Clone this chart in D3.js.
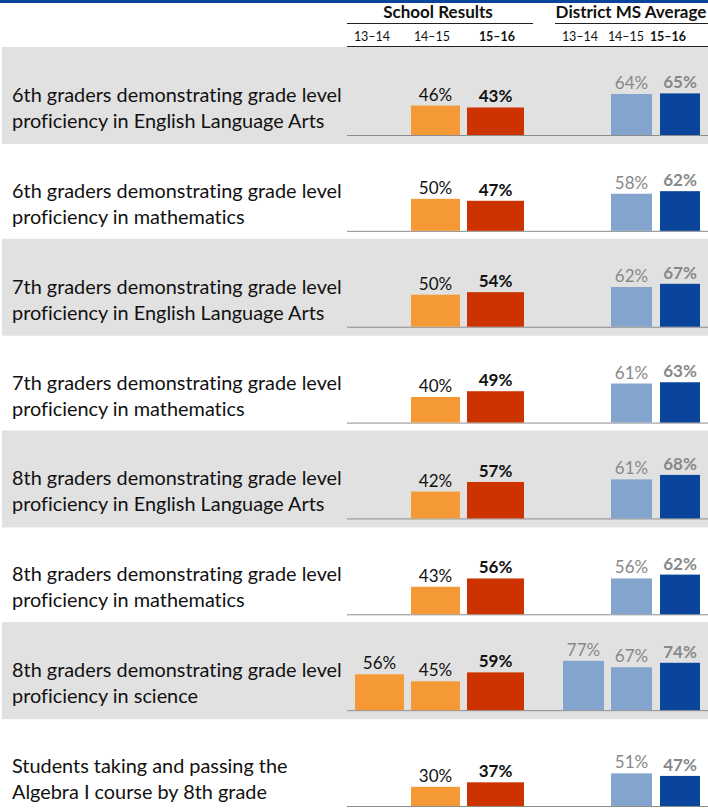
<!DOCTYPE html>
<html>
<head>
<meta charset="utf-8">
<script src="https://cdn.jsdelivr.net/npm/d3@7"></script>
<style>
  body { margin: 0; background: #fff; }
  text { font-family: Lato, "Open Sans", sans-serif; font-variant-ligatures: none; }
</style>
</head>
<body>
<div id="chart"></div>
<script>
// chart values
const categories = [
    ["6th graders demonstrating grade level", "proficiency in English Language Arts"],
    ["6th graders demonstrating grade level", "proficiency in mathematics"],
    ["7th graders demonstrating grade level", "proficiency in English Language Arts"],
    ["7th graders demonstrating grade level", "proficiency in mathematics"],
    ["8th graders demonstrating grade level", "proficiency in English Language Arts"],
    ["8th graders demonstrating grade level", "proficiency in mathematics"],
    ["8th graders demonstrating grade level", "proficiency in science"],
    ["Students taking and passing the", "Algebra I course by 8th grade"]
];
const years = ["13–14", "14–15", "15–16"];
const groups = ["School Results", "District MS Average"];

const school1314 = [null, null, null, null, null, null, 56, null];
const school1415 = [46, 50, 50, 40, 42, 43, 45, 30];
const school1516 = [43, 47, 54, 49, 57, 56, 59, 37];
const district1314 = [null, null, null, null, null, null, 77, null];
const district1415 = [64, 58, 62, 61, 61, 56, 67, 51];
const district1516 = [65, 62, 67, 63, 68, 62, 74, 47];

const width = 708, height = 808;

const svg = d3.select("#chart").append("svg")
    .attr("width", width)
    .attr("height", height);

// row baselines
const y = d3.scaleLinear().domain([0, 7]).range([135, 806]);
// bar height per percent
const h = d3.scaleLinear().domain([0, 100]).range([0, 64]);

// column positions (left edge) and widths for each group / year
const colX = {
    "School Results": d3.scaleOrdinal().domain(years).range([355, 411, 467]),
    "District MS Average": d3.scaleOrdinal().domain(years).range([563, 611, 660])
};
const colW = {
    "School Results": d3.scaleOrdinal().domain(years).range([49, 49, 57]),
    "District MS Average": d3.scaleOrdinal().domain(years).range([41, 41, 40])
};
const headX = {
    "School Results": d3.scaleOrdinal().domain(years).range([372, 432, 497]),
    "District MS Average": d3.scaleOrdinal().domain(years).range([580, 626, 668])
};
const colors = {
    "School Results": d3.scaleOrdinal().domain(years).range(["#F49935", "#F49935", "#CC3300"]),
    "District MS Average": d3.scaleOrdinal().domain(years).range(["#83A4CC", "#83A4CC", "#0B449B"])
};
const labelColor = {
    "School Results": "#111",
    "District MS Average": "#888"
};

// gray row bands
svg.selectAll("rect.band")
    .data(categories.map((c, i) => i).filter(i => i % 2 === 0))
    .enter().append("rect")
    .attr("class", "band")
    .attr("x", 2)
    .attr("y", i => y(i) - 88)
    .attr("width", width - 2)
    .attr("height", 97)
    .attr("fill", "#E1E1E1");

// top rule
svg.append("rect").attr("x", 0).attr("y", 0).attr("width", width).attr("height", 3).attr("fill", "#0B449B");

// headers
const groupSpan = {
    "School Results": [347, 533],
    "District MS Average": [555, 708]
};
groups.forEach(g => {
    const [x0, x1] = groupSpan[g];
    svg.append("text")
        .attr("x", g === "School Results" ? 438 : 631)
        .attr("y", 18)
        .attr("text-anchor", "middle")
        .attr("font-size", 17)
        .attr("font-weight", "bold")
        .attr("fill", "#111")
        .text(g);
    svg.append("line")
        .attr("x1", x0).attr("x2", x1)
        .attr("y1", 23.5).attr("y2", 23.5)
        .attr("stroke", "#222").attr("stroke-width", 1);
    years.forEach((yr, j) => {
        svg.append("text")
            .attr("x", headX[g](yr))
            .attr("y", 41)
            .attr("text-anchor", "middle")
            .attr("font-size", 12.5)
            .attr("font-weight", j === 2 ? "bold" : "normal")
            .attr("fill", "#111")
            .text(yr);
    });
});
svg.append("line")
    .attr("x1", 347).attr("x2", width)
    .attr("y1", 46.5).attr("y2", 46.5)
    .attr("stroke", "#222").attr("stroke-width", 1);

// category labels, fitted to the left column
const catG = svg.append("g");
categories.forEach((lines, i) => {
    lines.forEach((t, k) => {
        catG.append("text")
            .attr("class", "cat")
            .attr("x", 12)
            .attr("y", y(i) - 33 + k * 26)
            .attr("font-size", 18)
            .attr("fill", "#111")
            .text(t);
    });
});
let maxLen = 0;
catG.selectAll("text.cat").each(function () { maxLen = Math.max(maxLen, this.getComputedTextLength()); });
catG.selectAll("text.cat").attr("font-size", 18 * 330 / maxLen);

// baselines
svg.selectAll("line.base")
    .data(categories)
    .enter().append("line")
    .attr("class", "base")
    .attr("x1", 347).attr("x2", width)
    .attr("y1", (d, i) => y(i) + 0.5).attr("y2", (d, i) => y(i) + 0.5)
    .attr("stroke", "#8c8c8c").attr("stroke-width", 1);

// bars
const series = [
    { group: "School Results", year: "13–14", values: school1314 },
    { group: "School Results", year: "14–15", values: school1415 },
    { group: "School Results", year: "15–16", values: school1516 },
    { group: "District MS Average", year: "13–14", values: district1314 },
    { group: "District MS Average", year: "14–15", values: district1415 },
    { group: "District MS Average", year: "15–16", values: district1516 }
];

series.forEach(s => {
    const pts = s.values.map((v, i) => ({ v, i })).filter(d => d.v !== null);
    const x = colX[s.group](s.year), w = colW[s.group](s.year);
    const current = s.year === "15–16";
    svg.selectAll(null)
        .data(pts)
        .enter().append("rect")
        .attr("x", x)
        .attr("y", d => y(d.i) - h(d.v))
        .attr("width", w)
        .attr("height", d => h(d.v))
        .attr("fill", colors[s.group](s.year));
    svg.selectAll(null)
        .data(pts)
        .enter().append("text")
        .attr("x", x + w / 2)
        .attr("y", d => y(d.i) - h(d.v) - 5)
        .attr("text-anchor", "middle")
        .attr("font-size", 17)
        .attr("font-weight", current ? "bold" : "normal")
        .attr("fill", labelColor[s.group])
        .text(d => d.v + "%");
});
</script>
</body>
</html>
